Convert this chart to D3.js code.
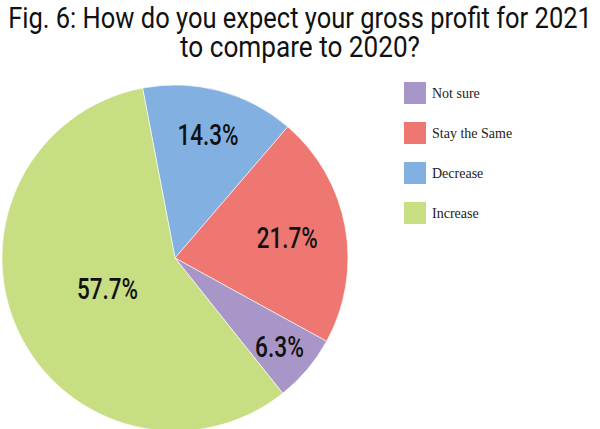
<!DOCTYPE html>
<html><head><meta charset="utf-8">
<script src="https://cdn.jsdelivr.net/npm/d3@7"></script>
<style>body{margin:0;background:#fff}svg{display:block}</style>
</head><body>
<script>
const categories = ["Decrease", "Stay the Same", "Not sure", "Increase"];
const values = [14.3, 21.7, 6.3, 57.7];
const legendOrder = ["Not sure", "Stay the Same", "Decrease", "Increase"];
const colors = {"Not sure":"#A996C8","Stay the Same":"#EF7772","Decrease":"#82B0E0","Increase":"#C7DE82"};
const titleLines = ["Fig. 6: How do you expect your gross profit for 2021", "to compare to 2020?"];

const W=600,H=429;
const svg=d3.select("body").append("svg").attr("width",W).attr("height",H);
const cond = "Roboto,'DejaVu Sans',sans-serif";

const titleWidths=[584,240];
svg.selectAll("g.title").data(titleLines).join("g").attr("class","title")
  .attr("transform",(d,i)=>`translate(300,${28+i*29})`)
  .append("text").attr("text-anchor","middle")
  .attr("font-family",cond).attr("font-size",29).attr("fill","#111")
  .text(d=>d)
  .each(function(d,i){const w=this.getComputedTextLength(); d3.select(this).attr("transform",`scale(${titleWidths[i]/w},1)`);});

const cx=175, cy=258, r=173;
const startA = -10.8*Math.PI/180;
const pie=d3.pie().sort(null).value(d=>d.v).startAngle(startA).endAngle(startA+2*Math.PI);
const data=categories.map((c,i)=>({c,v:values[i]}));
const arcs=pie(data);
const arc=d3.arc().innerRadius(0).outerRadius(r);
const g=svg.append("g").attr("transform",`translate(${cx},${cy})`);
g.selectAll("path").data(arcs).join("path").attr("d",arc)
  .attr("fill",d=>colors[d.data.c]).attr("stroke","#fff").attr("stroke-width",0.6);

const labelPos = {"Decrease":0.74,"Stay the Same":0.66,"Not sure":0.79,"Increase":0.43};
g.selectAll("text").data(arcs).join("text")
  .attr("transform",d=>{const a=(d.startAngle+d.endAngle)/2; const rr=r*labelPos[d.data.c];
     return `translate(${Math.sin(a)*rr},${-Math.cos(a)*rr})`;})
  .attr("text-anchor","middle").attr("dy","0.36em")
  .attr("font-family",cond).attr("font-size",29).attr("font-weight",500).attr("fill","#111")
  .attr("textLength",d=>(d.data.v.toFixed(1)+"%").length*12.2).attr("lengthAdjust","spacingAndGlyphs")
  .text(d=>d.data.v.toFixed(1)+"%");

const lg=svg.append("g");
const ly=d3.scalePoint().domain(legendOrder).range([82,202]);
lg.selectAll("rect").data(legendOrder).join("rect")
  .attr("x",404).attr("y",d=>ly(d)).attr("width",22).attr("height",22).attr("fill",d=>colors[d]);
lg.selectAll("text").data(legendOrder).join("text")
  .attr("x",432).attr("y",d=>ly(d)+16).attr("font-family","'Liberation Serif','DejaVu Serif',serif")
  .attr("font-size",14).attr("fill","#222").text(d=>d);
</script>
</body></html>
